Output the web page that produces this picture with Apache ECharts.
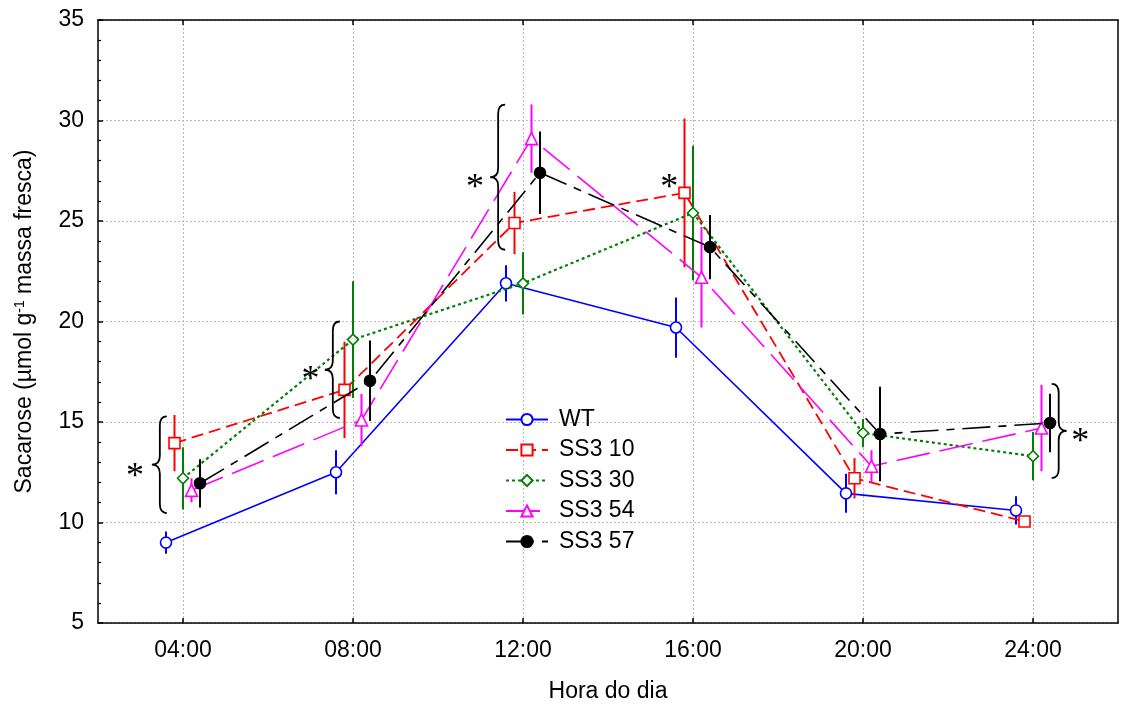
<!DOCTYPE html>
<html>
<head>
<meta charset="utf-8">
<script src="https://cdn.jsdelivr.net/npm/echarts@6/dist/echarts.min.js"></script>
<style>
  html, body { margin: 0; padding: 0; background: #ffffff; }
  #chart { width: 1123px; height: 709px; }
</style>
</head>
<body>
<div id="chart"></div>
<script>
// Sampling times (hours of the day) and their tick labels
const hours = [4, 8, 12, 16, 20, 24];
const hourLabels = ['04:00', '08:00', '12:00', '16:00', '20:00', '24:00'];

// Genotypes, drawn side by side around each sampling time
const seriesNames = ['WT', 'SS3 10', 'SS3 30', 'SS3 54', 'SS3 57'];
const dodge = [-0.4, -0.2, 0, 0.2, 0.4];

// Sucrose means (µmol g-1 fresh mass) and their error half-widths
const wt        = [9.0, 12.5, 21.9, 19.7, 11.45, 10.6];
const wtErr     = [0.55, 1.1, 0.9, 1.5, 0.97, 0.7];
const ss3_10    = [13.95, 16.6, 24.9, 26.4, 12.2, 10.05];
const ss3_10Err = [1.4, 2.4, 1.55, 3.7, 1.0, 0.25];
const ss3_30    = [12.2, 19.1, 21.9, 25.4, 14.45, 13.3];
const ss3_30Err = [1.55, 2.9, 1.55, 3.35, 0.7, 1.2];
const ss3_54    = [11.6, 15.1, 29.1, 22.2, 12.8, 14.7];
const ss3_54Err = [0.6, 1.3, 1.7, 2.5, 0.8, 2.15];
const ss3_57    = [11.95, 17.05, 27.4, 23.7, 14.4, 14.95];
const ss3_57Err = [1.2, 2.0, 2.05, 1.6, 2.35, 1.45];

// Y axis ticks
const yMin = 5, yMax = 35, yStep = 5;

// Significance marks: braces [x of the open ends, low, high, direction] and asterisks [x, y]
const braces = [
  [3.62, 10.47, 15.28, -1],
  [7.69, 15.2, 20.0, -1],
  [11.58, 23.57, 30.79, -1],
  [24.44, 12.21, 16.9, 1]
];
const stars = [
  [2.87, 12.54],
  [7.0, 17.35],
  [10.87, 26.89],
  [15.44, 26.92],
  [25.11, 14.28]
];

const FONT = "'Liberation Sans', Arial, sans-serif";
const means  = [wt, ss3_10, ss3_30, ss3_54, ss3_57];
const errs   = [wtErr, ss3_10Err, ss3_30Err, ss3_54Err, ss3_57Err];
const colors = ['#0000ff', '#ff0000', '#008000', '#ff00ff', '#000000'];
const symbols = ['circle', 'rect', 'diamond', 'triangle', 'circle'];
const fills  = ['#ffffff', '#ffffff', '#ffffff', '#ffffff', '#000000'];
const dashes = ['solid', [12, 6], [3, 3], [34, 10], [28, 8, 8, 8]];
const widths = [1.6, 1.8, 2.2, 1.6, 1.6];

const series = [];
means.forEach(function (vals, i) {
  const xs = hours.map(function (h) { return h + dodge[i]; });
  // vertical error bars
  series.push({
    type: 'custom',
    name: seriesNames[i] + ' erro',
    z: 2 + 2 * i,
    silent: true,
    data: xs.map(function (x, k) { return [x, vals[k] - errs[i][k], vals[k] + errs[i][k]]; }),
    renderItem: function (params, api) {
      const a = api.coord([api.value(0), api.value(1)]);
      const b = api.coord([api.value(0), api.value(2)]);
      return {
        type: 'line',
        shape: { x1: a[0], y1: a[1], x2: b[0], y2: b[1] },
        style: { stroke: colors[i], lineWidth: 2 }
      };
    }
  });
  // means joined by lines
  series.push({
    type: 'line',
    name: seriesNames[i],
    z: 3 + 2 * i,
    data: xs.map(function (x, k) { return [x, vals[k]]; }),
    symbol: symbols[i],
    symbolSize: i === 3 ? 12 : 11,
    showSymbol: true,
    lineStyle: { color: colors[i], width: widths[i], type: dashes[i] },
    itemStyle: { color: fills[i], borderColor: colors[i], borderWidth: 1.6 },
    emphasis: { disabled: true }
  });
});

// curly braces grouping significant points
series.push({
  type: 'custom',
  name: 'chaves',
  z: 20,
  silent: true,
  data: braces,
  renderItem: function (params, api) {
    const x = api.value(0), lo = api.value(1), hi = api.value(2), dir = api.value(3);
    const pT = api.coord([x, hi]), pB = api.coord([x, lo]);
    const x0 = pT[0], yT = pT[1], yB = pB[1], ym = (yT + yB) / 2;
    const xs = x0 + dir * 7, xt = x0 + dir * 15, r = 9;
    const d = 'M' + x0 + ' ' + yT +
      ' Q' + xs + ' ' + yT + ' ' + xs + ' ' + (yT + r) +
      ' L' + xs + ' ' + (ym - r) +
      ' Q' + xs + ' ' + ym + ' ' + xt + ' ' + ym +
      ' Q' + xs + ' ' + ym + ' ' + xs + ' ' + (ym + r) +
      ' L' + xs + ' ' + (yB - r) +
      ' Q' + xs + ' ' + yB + ' ' + x0 + ' ' + yB;
    return { type: 'path', shape: { pathData: d }, style: { fill: 'none', stroke: '#000', lineWidth: 1.8 } };
  }
});

// asterisks
series.push({
  type: 'custom',
  name: 'asteriscos',
  z: 20,
  silent: true,
  data: stars,
  renderItem: function (params, api) {
    const p = api.coord([api.value(0), api.value(1)]);
    return {
      type: 'text',
      x: p[0], y: p[1] + 6,
      style: { text: '*', fontSize: 36, fontFamily: "'Liberation Serif', 'Times New Roman', serif", fill: '#000', align: 'center', verticalAlign: 'middle' }
    };
  }
});

const chart = echarts.init(document.getElementById('chart'), null, { renderer: 'canvas' });
chart.setOption({
  animation: false,
  backgroundColor: '#ffffff',
  textStyle: { fontFamily: FONT },
  grid: { left: 98, right: 5, top: 20, bottom: 86, containLabel: false, outerBoundsMode: 'none' },
  legend: {
    data: seriesNames,
    orient: 'vertical',
    left: 505,
    top: 408,
    padding: 0,
    itemWidth: 42,
    itemHeight: 14,
    itemGap: 7.5,
    selectedMode: false,
    textStyle: { fontSize: 23, fontFamily: FONT, color: '#000', padding: [0, 0, 0, 6] }
  },
  xAxis: [
    {
      type: 'value', position: 'bottom', min: 2, max: 26,
      name: 'Hora do dia', nameLocation: 'middle', nameGap: 57,
      nameTextStyle: { fontSize: 23, fontFamily: FONT, color: '#000' },
      axisLine: { show: true, onZero: false, lineStyle: { color: '#000', width: 1.5 } },
      axisTick: { show: true, inside: true, length: 5, customValues: hours, lineStyle: { color: '#000', width: 1.5 } },
      axisLabel: {
        customValues: hours, margin: 16, fontSize: 23, fontFamily: FONT, color: '#000',
        formatter: function (v) { const k = hours.indexOf(v); return k >= 0 ? hourLabels[k] : ''; }
      },
      splitLine: { show: true, lineStyle: { color: '#b8b8b8', width: 1, type: [2, 2] } }
    },
    {
      type: 'value', position: 'top', min: 2, max: 26,
      axisLine: { show: true, onZero: false, lineStyle: { color: '#000', width: 1.5 } },
      axisTick: { show: true, inside: true, length: 5, customValues: hours, lineStyle: { color: '#000', width: 1.5 } },
      axisLabel: { show: false },
      splitLine: { show: false }
    }
  ],
  yAxis: [
    {
      type: 'value', position: 'left', min: yMin, max: yMax, interval: yStep,
      name: '{n|Sacarose (µmol g}{sup|-1}{n| massa fresca)}',
      nameLocation: 'middle', nameGap: 62, nameRotate: 90,
      nameTextStyle: {
        fontSize: 23, fontFamily: FONT, color: '#000',
        rich: {
          n: { fontSize: 23, fontFamily: FONT, color: '#000', lineHeight: 23, verticalAlign: 'bottom' },
          sup: { fontSize: 14, fontFamily: FONT, color: '#000', lineHeight: 14, verticalAlign: 'top', padding: [0, 0, 14, 0] }
        }
      },
      axisLine: { show: true, onZero: false, lineStyle: { color: '#000', width: 1.5 } },
      axisTick: { show: true, inside: true, length: 5, lineStyle: { color: '#000', width: 1.5 } },
      minorTick: { show: true, splitNumber: 5, length: 3, lineStyle: { color: '#000', width: 1.2 } },
      axisLabel: { margin: 14, fontSize: 23, fontFamily: FONT, color: '#000' },
      splitLine: { show: true, lineStyle: { color: '#b8b8b8', width: 1, type: [2, 2] } }
    },
    {
      type: 'value', position: 'right', min: yMin, max: yMax, interval: yStep,
      axisLine: { show: true, onZero: false, lineStyle: { color: '#000', width: 1.5 } },
      axisTick: { show: false },
      axisLabel: { show: false },
      splitLine: { show: false }
    }
  ],
  series: series
});
</script>
</body>
</html>
